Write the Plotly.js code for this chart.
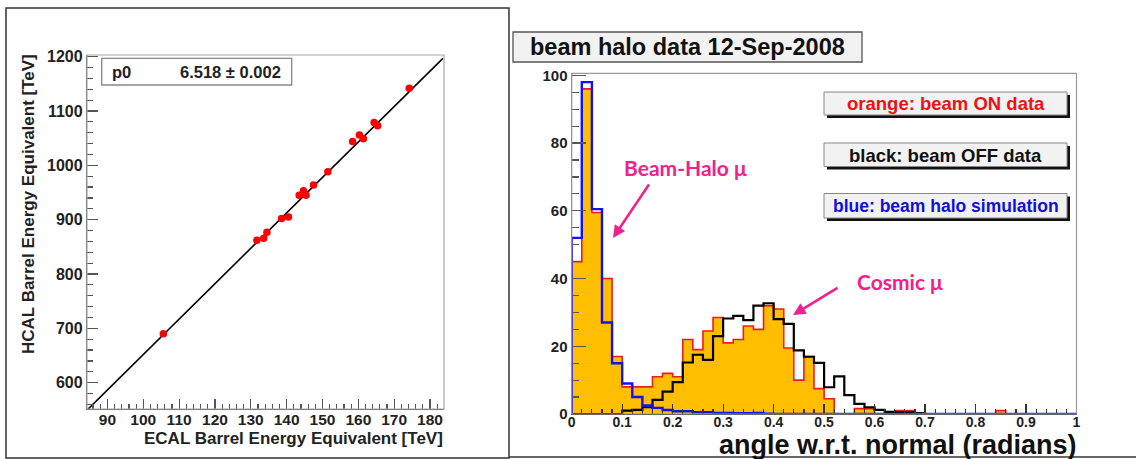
<!DOCTYPE html>
<html><head><meta charset="utf-8">
<script src="https://cdn.plot.ly/plotly-3.0.1.min.js"></script>
<style>html,body{margin:0;padding:0;background:#fff}#chart{width:1136px;height:459px}</style>
</head><body><div id="chart"></div>
<script>
// ---------- left panel data ----------
const ecalEnergy = [105.6, 131.7, 133.6, 134.5, 138.6, 140.5, 143.5, 144.7, 145.4, 147.5, 151.5, 158.4, 160.3, 161.4, 164.4, 165.4, 174.2];
const hcalEnergy = [690, 862, 866, 877, 902, 905, 945, 953, 945, 964, 988, 1044, 1056, 1049, 1079, 1073, 1142];
const fitP0 = 6.518;
const fitP0Err = 0.002;
const fitRange = [84.4, 183.6];
const leftXTicks = [90, 100, 110, 120, 130, 140, 150, 160, 170, 180];
const leftYTicks = [600, 700, 800, 900, 1000, 1100, 1200];

// ---------- right panel data ----------
const angleBinEdges = [0,0.02,0.04,0.06,0.08,0.1,0.12,0.14,0.16,0.18,0.2,0.22,0.24,0.26,0.28,0.3,0.32,0.34,0.36,0.38,0.4,0.42,0.44,0.46,0.48,0.5,0.52,0.54,0.56,0.58,0.6,0.62,0.64,0.66,0.68,0.7,0.72,0.74,0.76,0.78,0.8,0.82,0.84,0.86,0.88,0.9,0.92,0.94,0.96,0.98,1.0];
const beamOnCounts  = [45,96,59.5,40,17,8,8,8,11,12,11,22,19,24.5,28.5,21,22,26,25,32,31,19.5,10,17,7.5,4.5,0,0,1.6,1.6,0,0,1,1,0,0,0,0,0,0,0,0,1,0,0,0,0,0,0,0];
const beamOffCounts = [0,0,0,0,0,1,1.2,2,4.2,6.6,9.4,15.2,17.5,16,23,28.2,29,27.7,32,32.7,28,26.6,18.8,16.9,15.1,7.9,11.1,5.6,3,2,1.2,0.6,0.5,0.5,0.3,0,0,0,0,0,0,0,0,0,0,0,0,0,0,0];
const haloSimCounts = [52,98,60.5,27,15,9,5,2.5,1.8,1.2,0.8,0.8,0.5,0.5,0.3,0.3,0.2,0.2,0.3,0.1,0,0,0,0,0,0,0,0,0,0,0,0,0,0,0,0,0,0,0,0,0,0,0,0,0,0,0,0,0,0];
const rightXTicks = [0,0.1,0.2,0.3,0.4,0.5,0.6,0.7,0.8,0.9,1];
const rightXLabels = ['0','0.1','0.2','0.3','0.4','0.5','0.6','0.7','0.8','0.9','1'];
const rightYTicks = [0,20,40,60,80,100];

// ---------- helpers ----------
const W = 1136, H = 459;
const px = x => x / W;
const py = y => 1 - y / H;
const FAM = 'Liberation Sans, Arial, Helvetica, sans-serif';
const CAL = 'Lato, Open Sans, sans-serif';
const MAG = '#F0208C';
const step = arr => [0].concat(arr, [arr[arr.length - 1]]);
const stepX = edges => [edges[0]].concat(edges);
const bold = arr => arr.map(v => '<b>' + v + '</b>');

const traces = [
  {x: fitRange, y: fitRange.map(v => fitP0 * v), type: 'scatter', mode: 'lines', xaxis: 'x', yaxis: 'y',
   line: {color: '#000', width: 1.6}, hoverinfo: 'skip'},
  {x: ecalEnergy, y: hcalEnergy, type: 'scatter', mode: 'markers', xaxis: 'x', yaxis: 'y',
   marker: {color: '#ff0000', size: 7.5, line: {width: 0}}},
  {x: stepX(angleBinEdges), y: step(beamOnCounts), type: 'scatter', mode: 'lines', xaxis: 'x2', yaxis: 'y2',
   line: {shape: 'hv', color: '#ee1c1c', width: 1.6}, fill: 'tozeroy', fillcolor: '#FFBE00'},
  {x: stepX(angleBinEdges), y: step(beamOffCounts), type: 'scatter', mode: 'lines', xaxis: 'x2', yaxis: 'y2',
   line: {shape: 'hv', color: '#000', width: 2.2}},
  {x: stepX(angleBinEdges), y: step(haloSimCounts), type: 'scatter', mode: 'lines', xaxis: 'x2', yaxis: 'y2',
   line: {shape: 'hv', color: '#1010ff', width: 2.4}}
];

const axBase = {showgrid: false, zeroline: false, showline: true, linecolor: '#555', linewidth: 1.2,
  ticks: 'inside', tickcolor: '#555', tickwidth: 1.2, fixedrange: true};

const layout = {
  width: W, height: H, margin: {l: 0, r: 0, t: 0, b: 0},
  paper_bgcolor: '#fff', plot_bgcolor: '#fff', showlegend: false,
  xaxis: Object.assign({}, axBase, {domain: [px(87), px(444)], range: [84.3, 183.9], anchor: 'y',
    tickmode: 'array', tickvals: leftXTicks, ticktext: bold(leftXTicks), ticklen: 10,
    tickfont: {family: FAM, size: 15.5, color: '#222'}, ticklabelstandoff: -4,
    minor: {dtick: 2, tick0: 0, ticklen: 5, ticks: 'inside', tickcolor: '#555'}}),
  yaxis: Object.assign({}, axBase, {domain: [py(409), py(55)], range: [551.6, 1203], anchor: 'x',
    tickmode: 'array', tickvals: leftYTicks, ticktext: bold(leftYTicks), ticklen: 11,
    tickfont: {family: FAM, size: 16, color: '#222'},
    minor: {dtick: 20, tick0: 0, ticklen: 6, ticks: 'inside', tickcolor: '#555'}}),
  xaxis2: Object.assign({}, axBase, {domain: [px(571.7), px(1076.5)], range: [0, 1], anchor: 'y2',
    tickmode: 'array', tickvals: rightXTicks, ticktext: bold(rightXLabels), ticklen: 10, linecolor: '#333', tickcolor: '#333',
    tickfont: {family: FAM, size: 14, color: '#222'}, ticklabelstandoff: -5,
    minor: {dtick: 0.02, tick0: 0, ticklen: 5, ticks: 'inside', tickcolor: '#333'}}),
  yaxis2: Object.assign({}, axBase, {domain: [py(414), py(73.3)], range: [0, 100.6], anchor: 'x2',
    tickmode: 'array', tickvals: rightYTicks, ticktext: bold(rightYTicks), ticklen: 14,
    tickfont: {family: FAM, size: 15, color: '#222'},
    minor: {dtick: 5, tick0: 0, ticklen: 7, ticks: 'inside', tickcolor: '#555'}}),
  shapes: [
    {type: 'rect', xref: 'paper', yref: 'paper', x0: px(6), x1: px(509), y0: py(458), y1: py(8), line: {color: '#333', width: 1.5}},
    {type: 'line', xref: 'paper', yref: 'paper', x0: px(509), x1: px(1136), y0: py(457), y1: py(457), line: {color: '#333', width: 1.5}},
    {type: 'rect', xref: 'paper', yref: 'paper', x0: px(87), x1: px(444), y0: py(409), y1: py(55), line: {color: '#aaa', width: 1.2}},
    {type: 'rect', xref: 'paper', yref: 'paper', x0: px(571.7), x1: px(1076.5), y0: py(414), y1: py(73.3), line: {color: '#999', width: 1.2}},
    {type: 'rect', xref: 'paper', yref: 'paper', x0: px(101.7), x1: px(291.7), y0: py(85), y1: py(58.3), fillcolor: '#fff', line: {color: '#888', width: 1.3}},
    {type: 'rect', xref: 'paper', yref: 'paper', x0: px(513), x1: px(862), y0: py(62), y1: py(32), fillcolor: '#f2f2f2', line: {color: '#555', width: 1.3}},
    {type: 'rect', xref: 'paper', yref: 'paper', x0: px(827), x1: px(1070), y0: py(118), y1: py(95), fillcolor: '#111', line: {width: 0}},
    {type: 'rect', xref: 'paper', yref: 'paper', x0: px(824), x1: px(1067), y0: py(115), y1: py(92), fillcolor: '#f2f2f2', line: {color: '#888', width: 1}},
    {type: 'rect', xref: 'paper', yref: 'paper', x0: px(827), x1: px(1070), y0: py(169.5), y1: py(146), fillcolor: '#111', line: {width: 0}},
    {type: 'rect', xref: 'paper', yref: 'paper', x0: px(824), x1: px(1067), y0: py(166.5), y1: py(143), fillcolor: '#f2f2f2', line: {color: '#888', width: 1}},
    {type: 'rect', xref: 'paper', yref: 'paper', x0: px(827), x1: px(1070), y0: py(221), y1: py(196.5), fillcolor: '#111', line: {width: 0}},
    {type: 'rect', xref: 'paper', yref: 'paper', x0: px(824), x1: px(1067), y0: py(218), y1: py(193.5), fillcolor: '#f2f2f2', line: {color: '#888', width: 1}}
  ],
  annotations: [
    {xref: 'paper', yref: 'paper', x: px(28), y: py(204), text: '<b>HCAL Barrel Energy Equivalent [TeV]</b>', textangle: -90,
     showarrow: false, xanchor: 'center', yanchor: 'middle', font: {family: FAM, size: 17, color: '#222'}},
    {xref: 'paper', yref: 'paper', x: px(445), y: py(438.5), text: '<b>ECAL Barrel Energy Equivalent [TeV]</b>',
     showarrow: false, xanchor: 'right', yanchor: 'middle', font: {family: FAM, size: 17, color: '#222'}},
    {xref: 'paper', yref: 'paper', x: px(110), y: py(71.5), text: '<b>p0</b>', showarrow: false, xanchor: 'left', yanchor: 'middle',
     font: {family: FAM, size: 16.5, color: '#222'}},
    {xref: 'paper', yref: 'paper', x: px(283), y: py(71.5), text: '<b>' + fitP0.toFixed(3) + ' ± ' + fitP0Err.toFixed(3) + '</b>', showarrow: false,
     xanchor: 'right', yanchor: 'middle', font: {family: FAM, size: 16.5, color: '#222'}},
    {xref: 'paper', yref: 'paper', x: px(687.5), y: py(47), text: '<b>beam halo data 12-Sep-2008</b>', showarrow: false,
     xanchor: 'center', yanchor: 'middle', font: {family: FAM, size: 23.5, color: '#111'}},
    {xref: 'paper', yref: 'paper', x: px(945.5), y: py(103.5), text: '<b>orange: beam ON data</b>', showarrow: false,
     xanchor: 'center', yanchor: 'middle', font: {family: FAM, size: 18.5, color: '#ee1111'}},
    {xref: 'paper', yref: 'paper', x: px(945.5), y: py(155), text: '<b>black: beam OFF data</b>', showarrow: false,
     xanchor: 'center', yanchor: 'middle', font: {family: FAM, size: 18.5, color: '#111'}},
    {xref: 'paper', yref: 'paper', x: px(945.5), y: py(206), text: '<b>blue: beam halo simulation</b>', showarrow: false,
     xanchor: 'center', yanchor: 'middle', font: {family: FAM, size: 17.5, color: '#1010dd'}},
    {xref: 'paper', yref: 'paper', x: px(685), y: py(167), text: '<b>Beam-Halo μ</b>', showarrow: false,
     xanchor: 'center', yanchor: 'middle', font: {family: CAL, size: 21, color: MAG}},
    {xref: 'paper', yref: 'paper', x: px(900), y: py(281), text: '<b>Cosmic μ</b>', showarrow: false,
     xanchor: 'center', yanchor: 'middle', font: {family: CAL, size: 21, color: MAG}},
    {xref: 'paper', yref: 'paper', x: px(613), y: py(238), ax: 37, ay: -55, axref: 'pixel', ayref: 'pixel', text: '',
     showarrow: true, arrowhead: 2, arrowsize: 1, arrowwidth: 2.5, arrowcolor: MAG},
    {xref: 'paper', yref: 'paper', x: px(793), y: py(315), ax: 46, ay: -28, axref: 'pixel', ayref: 'pixel', text: '',
     showarrow: true, arrowhead: 2, arrowsize: 1, arrowwidth: 2.5, arrowcolor: MAG},
    {xref: 'paper', yref: 'paper', x: px(1079), y: py(445), text: '<b>angle w.r.t. normal (radians)</b>', showarrow: false,
     xanchor: 'right', yanchor: 'middle', font: {family: FAM, size: 27, color: '#111'}}
  ]
};

Plotly.newPlot('chart', traces, layout, {staticPlot: true, displayModeBar: false});
</script></body></html>
